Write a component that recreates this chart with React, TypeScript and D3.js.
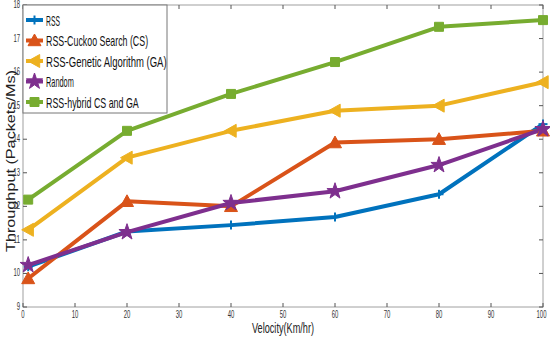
import React from "react";
import * as d3 from "d3";

const velocities = [1, 20, 40, 60, 80, 100];
const seriesNames = [
  "RSS",
  "RSS-Cuckoo Search (CS)",
  "RSS-Genetic Algorithm (GA)",
  "Random",
  "RSS-hybrid CS and GA",
];
const rssValues = [10.2, 11.25, 11.44, 11.68, 12.36, 14.45];
const csValues = [9.85, 12.15, 12.0, 13.9, 14.0, 14.25];
const gaValues = [11.3, 13.45, 14.25, 14.85, 15.0, 15.7];
const randomValues = [10.25, 11.23, 12.1, 12.45, 13.23, 14.3];
const hybridValues = [12.2, 14.25, 15.35, 16.3, 17.35, 17.55];
const colors = ["#0072BD", "#D95319", "#EDB120", "#7E2F8E", "#77AC30"];
const markers = ["plus", "triUp", "triLeft", "star", "square"];
const xTicks = [0, 10, 20, 30, 40, 50, 60, 70, 80, 90, 100];
const yTicks = [9, 10, 11, 12, 13, 14, 15, 16, 17, 18];

const W = 550;
const H = 344;
const L = 23, R = 543, T = 5, B = 307;

function markerPath(kind: string, cx: number, cy: number): string {
  switch (kind) {
    case "triUp": {
      const s = 6.5;
      return `M${cx},${cy - s}L${cx + s},${cy + s * 0.8}L${cx - s},${cy + s * 0.8}Z`;
    }
    case "triLeft": {
      const s = 6.5;
      return `M${cx - s},${cy}L${cx + s * 0.8},${cy - s}L${cx + s * 0.8},${cy + s}Z`;
    }
    case "star": {
      const outer = 8.5, inner = 3.3;
      const pts: string[] = [];
      for (let i = 0; i < 10; i++) {
        const r = i % 2 === 0 ? outer : inner;
        const a = -Math.PI / 2 + (i * Math.PI) / 5;
        pts.push(`${cx + r * Math.cos(a)},${cy + r * Math.sin(a)}`);
      }
      return "M" + pts.join("L") + "Z";
    }
    case "square": {
      const s = 4.5;
      return `M${cx - s},${cy - s}H${cx + s}V${cy + s}H${cx - s}Z`;
    }
    default:
      return "";
  }
}

function Marker({ kind, cx, cy, color }: { kind: string; cx: number; cy: number; color: string }) {
  if (kind === "plus") {
    return (
      <g stroke={color} strokeWidth={2}>
        <line x1={cx - 4.5} y1={cy} x2={cx + 4.5} y2={cy} />
        <line x1={cx} y1={cy - 4.5} x2={cx} y2={cy + 4.5} />
      </g>
    );
  }
  return <path d={markerPath(kind, cx, cy)} fill={color} stroke={color} strokeWidth={1} strokeLinejoin="miter" />;
}

export default function App() {
  const x = d3.scaleLinear().domain([0, 100]).range([L, R]);
  const y = d3.scaleLinear().domain([9, 18]).range([B, T]);
  const allSeries = [rssValues, csValues, gaValues, randomValues, hybridValues];
  const line = d3
    .line<number>()
    .x((_, i) => x(velocities[i]))
    .y((d) => y(d));

  const font = "Liberation Sans, Arial, sans-serif";

  return (
    <svg
      width={W}
      height={H}
      style={{ position: "absolute", left: 0, top: 0, background: "#fff" }}
      fontFamily={font}
    >
      <rect x={0} y={0} width={W} height={H} fill="#fff" />
      {/* axes box */}
      <rect x={L} y={T} width={R - L} height={B - T} fill="none" stroke="#a0a0a0" strokeWidth={1} />
      {/* x ticks */}
      {xTicks.map((t) => (
        <g key={"xt" + t}>
          <line x1={x(t)} x2={x(t)} y1={B} y2={B - 4} stroke="#555" strokeWidth={1} />
          <line x1={x(t)} x2={x(t)} y1={T} y2={T + 4} stroke="#555" strokeWidth={1} />
          <text
            x={t === 100 ? x(t) - 1.5 : x(t)}
            y={B + 11}
            fontSize={10}
            textAnchor="middle"
            fill="#333"
            textLength={String(t).length * 3.3}
            lengthAdjust="spacingAndGlyphs"
          >
            {t}
          </text>
        </g>
      ))}
      {/* y ticks */}
      {yTicks.map((t) => (
        <g key={"yt" + t}>
          <line x1={L} x2={L + 4} y1={y(t)} y2={y(t)} stroke="#555" strokeWidth={1} />
          <line x1={R} x2={R - 4} y1={y(t)} y2={y(t)} stroke="#555" strokeWidth={1} />
          <text
            x={20}
            y={y(t) + 3}
            fontSize={10}
            textAnchor="end"
            fill="#333"
            textLength={String(t).length * 3.3}
            lengthAdjust="spacingAndGlyphs"
          >
            {t}
          </text>
        </g>
      ))}
      {/* lines */}
      {allSeries.map((vals, si) => (
        <path
          key={"l" + si}
          d={line(vals) || ""}
          fill="none"
          stroke={colors[si]}
          strokeWidth={4}
          strokeLinejoin="round"
        />
      ))}
      {allSeries.map((vals, si) => (
        <g key={"m" + si}>
          {vals.map((v, i) => (
            <Marker key={i} kind={markers[si]} cx={x(velocities[i])} cy={y(v)} color={colors[si]} />
          ))}
        </g>
      ))}
      {/* axis labels */}
      <text
        x={(L + R) / 2}
        y={333}
        fontSize={15}
        textAnchor="middle"
        fill="#222"
        textLength={62}
        lengthAdjust="spacingAndGlyphs"
      >
        Velocity(Km/hr)
      </text>
      <text
        transform={`translate(15,${161}) rotate(-90)`}
        fontSize={12.5}
        textAnchor="middle"
        fill="#222"
        textLength={182}
        lengthAdjust="spacingAndGlyphs"
      >
        Throughput (Packets/Ms)
      </text>
      {/* legend */}
      <g>
        <rect x={L} y={T} width={144} height={108} fill="#fff" stroke="#777" strokeWidth={1} />
        {seriesNames.map((name, i) => {
          const ly = 20 + i * 20.5;
          return (
            <g key={"lg" + i}>
              <line x1={26} x2={43} y1={ly} y2={ly} stroke={colors[i]} strokeWidth={4} />
              <Marker kind={markers[i]} cx={34.5} cy={ly} color={colors[i]} />
              <text
                x={46}
                y={ly + 5.5}
                fontSize={15}
                fill="#111"
                textLength={name.length * 4.64}
                lengthAdjust="spacingAndGlyphs"
              >
                {name}
              </text>
            </g>
          );
        })}
      </g>
    </svg>
  );
}
